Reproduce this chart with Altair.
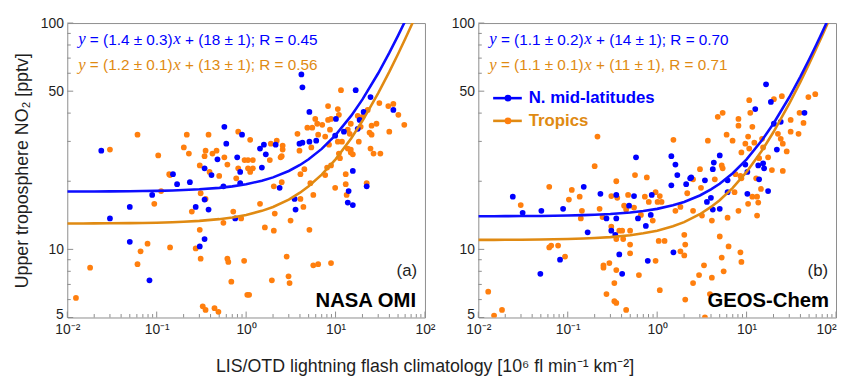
import altair as alt
import pandas as pd

# ---------------- data ----------------
# Panel (a) NASA OMI
A_MID_X = [0.024, 4.15, 4.26, 16.8, 24.6, 44.3, 20.6, 18.6, 17.7, 10.1, 5.10, 0.571, 0.90, 0.60, 1.58,
           2.14, 1.43, 4.26, 5.10, 6.08, 12.4, 9.9, 1.66, 0.478, 0.795, 1.50, 0.343, 0.858, 0.152, 0.41,
           15.6, 0.169, 0.235, 0.557, 2.37, 22.3, 14.0, 0.089, 0.050, 0.030, 0.343, 0.273, 0.38, 0.755,
           3.48, 3.57, 13.7, 15.6, 0.050, 0.303, 0.343, 0.083, 0.858, 3.95]
A_MID_Y = [27.3, 59.3, 52.0, 50.5, 47.1, 41.3, 40.5, 37.3, 34.1, 37.7, 40.5, 34.8, 32.1, 29.3, 29.0,
           29.0, 27.9, 29.6, 29.9, 30.2, 33.1, 31.8, 26.3, 25.0, 25.5, 23.0, 22.8, 22.0, 21.5, 21.3,
           22.2, 19.4, 19.8, 19.0, 18.7, 19.0, 18.1, 17.4, 15.4, 13.7, 16.6, 15.4, 15.0, 13.7,
           16.7, 15.0, 16.1, 15.7, 10.8, 10.3, 11.1, 7.3, 19.6, 29.3]
A_TROP_X = [0.061, 0.030, 0.104, 0.138, 0.141, 0.112, 0.094, 0.217, 0.38, 0.201, 0.229, 0.352, 0.343,
            0.42, 0.467, 0.303, 0.39, 0.50, 0.571, 0.617, 0.816, 0.96, 1.05, 1.19, 0.816, 0.775, 0.31,
            0.352, 0.247, 0.718, 1.11, 0.303, 0.557, 0.88, 0.079, 0.066, 0.061, 0.018, 0.0125, 0.141,
            0.273, 0.31, 0.617, 0.632, 0.95, 0.683, 1.03, 1.08, 0.327, 0.352, 0.443, 0.49, 13.0, 22.3,
            13.0, 9.9, 13.3, 5.64, 5.23, 7.66, 4.05, 4.48, 2.50, 2.04, 4.05, 4.37, 2.09, 3.14, 1.43,
            1.62, 2.04, 5.10, 1.11, 1.19, 2.84, 5.64, 6.39, 8.9, 2.98, 1.94, 3.06, 11.5, 30.9, 38.9,
            44.3, 50.4, 58.7, 39.9, 28.7, 22.9, 17.7, 20.1, 25.3, 24.0, 25.3, 26.6, 31.7, 24.6, 19.1,
            14.8, 18.2, 13.7, 14.4, 11.8, 10.6, 13.7, 14.8, 14.8, 15.6, 10.9, 8.25, 10.6, 10.9, 8.9,
            8.25, 5.93, 6.24, 7.1, 4.84, 5.49, 8.66, 6.39, 7.66, 3.75, 8.45, 5.36, 3.95, 2.56, 2.56,
            2.20, 1.84, 2.50, 8.9, 8.05, 11.2, 1.89, 2.43, 1.05]
A_TROP_Y = [32.1, 27.6, 26.0, 21.5, 21.3, 18.1, 15.9, 32.1, 32.1, 28.2, 26.5, 27.3, 25.8,
            26.5, 27.3, 23.5, 22.0, 21.1, 25.5, 23.7, 33.1, 24.8, 24.8, 24.8, 22.8, 20.6, 17.7,
            16.7, 14.7, 14.7, 30.5, 12.2, 13.1, 13.7, 10.6, 9.8, 8.6, 8.3, 6.1, 10.2,
            10.1, 9.1, 9.1, 8.8, 8.9, 7.2, 6.3, 6.3, 5.6, 5.4, 5.5, 5.3, 21.5, 19.6,
            19.4, 18.7, 17.4, 17.4, 19.6, 21.3, 21.5, 22.6, 19.8, 19.0, 16.7, 15.4, 14.4, 13.4, 15.9,
            12.5, 12.1, 12.2, 22.0, 22.8, 9.3, 8.5, 8.6, 8.7, 7.6, 7.3, 7.1, 50.5, 44.3, 43.0,
            43.9, 39.3, 35.5, 33.1, 35.9, 41.3, 38.9, 38.5, 35.2, 32.8, 32.1, 26.5, 26.5, 27.9, 34.8,
            35.9, 29.9, 33.8, 32.4, 29.9, 29.9, 27.9, 27.6, 26.8, 26.3, 26.5, 43.0, 41.7, 39.3, 37.7,
            37.3, 37.7, 35.9, 35.5, 34.5, 34.5, 33.8, 32.1, 31.5, 32.4, 29.0, 28.2, 27.3, 28.7, 27.6,
            30.2, 24.8, 25.8, 23.5, 23.0, 25.3, 29.3, 25.5, 22.8]

# Panel (b) GEOS-Chem
B_MID_X = [16.5, 18.7, 12.5, 44.4, 24.1, 20.2, 21.8, 5.01, 4.30, 4.19, 1.44, 1.60, 1.68, 2.40, 3.42,
           9.68, 10.2, 13.5, 15.3, 15.7, 13.8, 17.4, 10.2, 6.13, 6.13, 3.60, 3.99, 4.19, 5.01, 2.11,
           2.34, 1.52, 0.58, 0.0243, 0.0313, 0.0507, 0.0887, 0.151, 0.232, 0.349, 0.485, 0.551, 0.87,
           0.271, 0.349, 0.61, 0.848, 0.167, 0.307, 0.34, 0.747, 0.377, 0.082, 0.785, 0.0494, 0.406, 1.44]
B_MID_Y = [53.6, 44.8, 41.7, 40.1, 36.6, 35.9, 27.6, 26.0, 24.2, 22.6, 25.8, 23.7, 21.3, 20.8, 20.2,
           23.7, 22.0, 23.5, 24.0, 22.8, 20.4, 18.1, 17.6, 17.9, 20.2, 16.2, 16.9, 15.0, 15.1, 19.4,
           20.6, 9.7, 25.5, 17.1, 14.5, 14.8, 15.1, 18.9, 17.6, 17.4, 15.6, 17.2, 17.4,
           13.7, 13.7, 13.7, 14.2, 11.9, 12.1, 11.6, 12.7, 9.5, 9.0, 8.9, 7.8, 7.8, 19.2]
B_TROP_X = [0.215, 0.20, 0.349, 0.565, 0.766, 1.52, 3.69, 4.76, 5.40, 8.11, 8.11, 10.7, 11.0, 11.6,
            10.4, 12.2, 9.68, 8.75, 10.7, 5.98, 6.97, 14.9, 15.3, 13.8, 17.4, 20.2, 24.8, 31.1, 31.1,
            38.1, 39.1, 43.3, 49.1, 58.6, 22.4, 24.1, 25.4, 28.1, 19.2, 25.4, 5.27, 5.40, 3.01, 4.41,
            7.52, 8.53, 12.8, 0.0621, 0.111, 0.96, 1.07, 1.12, 2.17, 2.52, 3.09, 7.33, 8.75, 14.5,
            10.4, 11.6, 13.1, 13.5, 8.11, 13.1, 1.60, 1.82, 2.52, 3.17, 4.09, 6.13, 2.01, 5.01, 1.04,
            1.21, 2.06, 6.29, 1.82, 2.01, 8.53, 5.27, 8.75, 0.96, 3.34, 5.54, 2.94, 4.09, 2.52, 1.07,
            2.06, 3.89, 3.42, 0.14, 0.245, 0.307, 0.377, 0.406, 0.498, 0.417, 0.349, 0.498, 0.892,
            0.0621, 0.0653, 0.078, 0.0933, 0.251, 0.251, 0.292, 0.349, 0.498, 0.625, 0.332, 0.271,
            0.332, 0.349, 0.45, 0.0129, 0.0184, 0.015, 0.103, 0.136, 0.227, 0.144, 0.0298, 0.307,
            0.358, 0.473, 0.427, 0.45, 0.551, 0.728, 0.806, 0.658, 1.01]
B_TROP_Y = [31.5, 23.3, 20.0, 21.3, 20.8, 30.5, 30.2, 38.5, 40.1, 37.7, 35.2, 45.6, 40.1, 34.8,
            31.5, 29.6, 29.3, 26.8, 27.9, 32.1, 30.2, 30.8, 28.2, 25.3, 25.5, 46.1, 47.5, 37.3, 33.1,
            32.4, 40.1, 36.2, 47.1, 48.5, 32.4, 30.8, 29.3, 27.1, 22.4, 22.2, 23.5, 22.8, 22.6, 20.4,
            21.5, 21.1, 20.6, 18.9, 18.3, 17.9, 17.2, 16.2, 17.7, 20.4, 18.7, 17.9, 20.6, 18.5,
            15.9, 17.1, 17.1, 16.1, 14.8, 14.1, 14.8, 15.4, 14.8, 14.1, 13.4, 13.8, 11.6, 11.4, 10.9,
            10.9, 10.5, 10.3, 9.8, 9.4, 9.7, 9.2, 8.8, 8.9, 8.5, 8.0, 7.7, 7.5, 7.1, 6.6,
            6.0, 6.35, 5.0, 13.7, 13.9, 12.6, 12.1, 12.1, 12.1, 11.1, 11.1, 10.5, 13.4,
            10.2, 10.4, 10.4, 9.3, 8.5, 8.3, 8.7, 8.1, 9.6, 7.7, 7.1, 6.35,
            5.9, 5.8, 5.4, 6.5, 5.4, 5.1, 16.6, 17.1, 15.1, 14.8, 15.7, 17.2,
            16.9, 17.4, 15.6, 15.0, 15.3, 17.1, 16.2, 14.2, 16.2]

# Linear fits printed on the figure: y = slope * x + intercept
A_FIT = {"mid": (1.4, 18.0), "trop": (1.2, 13.0)}
B_FIT = {"mid": (1.1, 14.0), "trop": (1.1, 11.0)}
FIT_X = [0.01, 0.015, 0.02, 0.03, 0.05, 0.07, 0.1, 0.15, 0.2, 0.3, 0.5, 0.7, 1, 1.5, 2, 3, 4, 5, 7,
         10, 15, 20, 30, 40, 50, 60, 70, 80, 90, 100]

A_EQ = {"mid": [("y", 1), (" = (1.4 ± 0.3)", 0), ("x", 1), (" + (18 ± 1); R = 0.45", 0)],
        "trop": [("y", 1), (" = (1.2 ± 0.1)", 0), ("x", 1), (" + (13 ± 1); R = 0.56", 0)]}
B_EQ = {"mid": [("y", 1), (" = (1.1 ± 0.2)", 0), ("x", 1), (" + (14 ± 1); R = 0.70", 0)],
        "trop": [("y", 1), (" = (1.1 ± 0.1)", 0), ("x", 1), (" + (11 ± 1), R = 0.71", 0)]}

LEGEND = ["N. mid-latitudes", "Tropics"]
X_MAJOR = [0.01, 0.1, 1, 10, 100]
X_MINOR = [m * d for d in [0.01, 0.1, 1, 10] for m in range(2, 10)]
Y_MAJOR = [5, 10, 50, 100]
Y_MINOR = [6, 7, 8, 9, 20, 30, 40, 60, 70, 80, 90]

# ---------------- style ----------------
W, H = 362, 298
SANS = "Liberation Sans"
SERIF = "Liberation Serif"
BLUE = "#0000ff"
BLUE_LINE = "#0d0dff"
ORANGE_PT = "#ff7f0e"
ORANGE = "#e08a12"
FRAME = "#8c8c8c"
TXT = "#1e1e1e"
EQ_SIZE = 15.5
ITAL_SIZE = 17

SANS_W = {" ": 0.278, "(": 0.333, ")": 0.333, ".": 0.278, "±": 0.584, "=": 0.584, "+": 0.584,
          ";": 0.278, ",": 0.278, "R": 0.722}
for d in "0123456789":
    SANS_W[d] = 0.556

XLAB = ("datum.value < 0.05 ? '10⁻²' : datum.value < 0.5 ? '10⁻¹' : datum.value < 5 ? '10⁰' : "
        "datum.value < 50 ? '10¹' : '10²'")

xsc = alt.Scale(type="log", domain=[0.01, 100], nice=False)
ysc = alt.Scale(type="log", domain=[5, 100], nice=False)


def xaxis(flush_last):
    kw = dict(values=X_MAJOR, labelExpr=XLAB, ticks=False, domain=False, grid=False, title=None,
              labelFontSize=14, labelPadding=5, labelColor=TXT, labelFont=SANS, labelFlush=False)
    if flush_last:
        kw["labelAlign"] = {"condition": {"test": "datum.value > 50", "value": "right"},
                            "value": "center"}
    return alt.Axis(**kw)


def yaxis(title):
    kw = dict(values=Y_MAJOR, format="d", ticks=False, domain=False, grid=False, labelFontSize=14,
              labelPadding=4, labelColor=TXT, labelFont=SANS,
              labelOffset={"condition": {"test": "datum.value < 6", "value": -3}, "value": 0})
    if title:
        kw.update(title=title, titleFontSize=18, titleFontWeight="normal", titleFont=SANS,
                  titleColor=TXT, titlePadding=9)
    else:
        kw.update(title=None)
    return alt.Axis(**kw)


def text_layer(txt, x, y, color, size, weight="normal", font=SANS, style="normal", align="left"):
    return alt.Chart(pd.DataFrame({"t": [txt]})).mark_text(
        align=align, baseline="middle", fontSize=size, fontWeight=weight, font=font,
        fontStyle=style, color=color).encode(text="t:N", x=alt.value(x), y=alt.value(y))


def eq_layers(pieces, x0, y0, color):
    out = []
    x = x0
    for txt, italic in pieces:
        if italic:
            out.append(text_layer(txt, x, y0 - 0.5, color, ITAL_SIZE, font=SERIF, style="italic"))
            x += 0.444 * ITAL_SIZE
        else:
            lead = len(txt) - len(txt.lstrip(" "))
            trail = len(txt) - len(txt.rstrip(" "))
            core = txt.strip(" ")
            x += lead * SANS_W[" "] * EQ_SIZE
            out.append(text_layer(core, x, y0, color, EQ_SIZE))
            x += sum(SANS_W.get(c, 0.556) for c in core) * EQ_SIZE
            x += trail * SANS_W[" "] * EQ_SIZE
    return out


def panel(mx, my, tx, ty, fit, eqs, tag, name, ytitle, legend, name_dx, flush_last):
    X = alt.X("x:Q", scale=xsc, axis=xaxis(flush_last))
    Y = alt.Y("y:Q", scale=ysc, axis=yaxis(ytitle))
    trop = alt.Chart(pd.DataFrame({"x": tx, "y": ty})).mark_circle(
        size=34, opacity=1, color=ORANGE_PT, clip=True).encode(x=X, y=Y)
    mid = alt.Chart(pd.DataFrame({"x": mx, "y": my})).mark_circle(
        size=34, opacity=1, color=BLUE, clip=True).encode(x=X, y=Y)
    lines = []
    for key, col in (("trop", ORANGE), ("mid", BLUE_LINE)):
        a, b = fit[key]
        df = pd.DataFrame({"x": FIT_X, "y": [a * v + b for v in FIT_X]})
        lines.append(alt.Chart(df).mark_line(color=col, strokeWidth=2.6, clip=True).encode(x=X, y=Y))
    ticks = [
        alt.Chart(pd.DataFrame({"x": X_MAJOR})).mark_rule(color=FRAME).encode(
            x=X, y=alt.value(H), y2=alt.value(H - 6)),
        alt.Chart(pd.DataFrame({"x": X_MINOR})).mark_rule(color=FRAME).encode(
            x=X, y=alt.value(H), y2=alt.value(H - 3.5)),
        alt.Chart(pd.DataFrame({"y": Y_MAJOR})).mark_rule(color=FRAME).encode(
            y=Y, x=alt.value(0), x2=alt.value(6)),
        alt.Chart(pd.DataFrame({"y": Y_MINOR})).mark_rule(color=FRAME).encode(
            y=Y, x=alt.value(0), x2=alt.value(3.5)),
    ]
    texts = []
    texts += eq_layers(eqs["mid"], 11, 17, BLUE)
    texts += eq_layers(eqs["trop"], 11, 43, ORANGE)
    texts.append(text_layer(tag, W - 8, 251, TXT, 17, align="right"))
    texts.append(text_layer(name, W - name_dx, 281, "#000000", 20.5, weight="bold", align="right"))
    if legend:
        for i, (lab, pc, tc) in enumerate(zip(LEGEND, (BLUE, ORANGE_PT), (BLUE, ORANGE))):
            yy = 76 + 23 * i
            texts.append(alt.Chart(pd.DataFrame({"t": [lab]})).mark_rule(
                color=tc, strokeWidth=2.6).encode(x=alt.value(15), x2=alt.value(44), y=alt.value(yy)))
            texts.append(alt.Chart(pd.DataFrame({"t": [lab]})).mark_circle(
                size=45, opacity=1, color=pc).encode(x=alt.value(30), y=alt.value(yy)))
            texts.append(text_layer(lab, 51, yy, tc, 17, weight="bold"))
    return alt.layer(trop, mid, *lines, *ticks, *texts).properties(width=W, height=H)


pa = panel(A_MID_X, A_MID_Y, A_TROP_X, A_TROP_Y, A_FIT, A_EQ, "(a)", "NASA OMI",
           "Upper troposphere NO₂ [pptv]", False, 9, False)
pb = panel(B_MID_X, B_MID_Y, B_TROP_X, B_TROP_Y, B_FIT, B_EQ, "(b)", "GEOS-Chem",
           None, True, 7, True)

chart = alt.hconcat(pa, pb, spacing=15).properties(
    title=alt.TitleParams(text="LIS/OTD lightning flash climatology [10⁶ fl min⁻¹ km⁻²]",
                          orient="bottom", fontSize=18, font=SANS, fontWeight="normal",
                          color=TXT, offset=22, anchor="middle")
).configure(font=SANS, padding={"left": 5, "top": 5, "right": 0, "bottom": 0}).configure_view(
    stroke=FRAME, strokeWidth=1)

chart.save("out.html", embed_options={"renderer": "svg", "actions": False})
